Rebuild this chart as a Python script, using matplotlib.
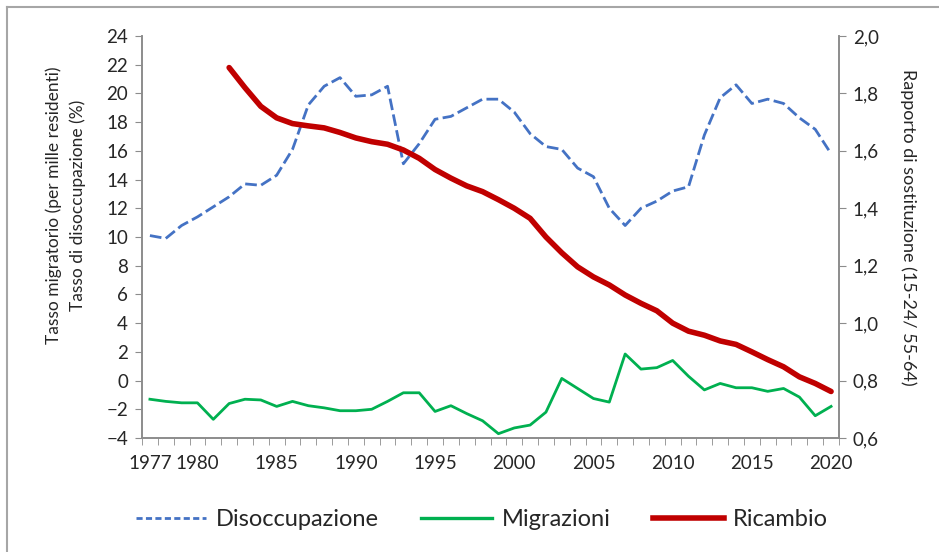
import numpy as np
import matplotlib
matplotlib.use('Agg')
from matplotlib import pyplot as plt
from matplotlib.lines import Line2D
from matplotlib.ticker import FuncFormatter

plt.rcParams['font.family'] = ['Lato', 'DejaVu Sans']

years = list(range(1977, 2021))
disoccupazione = [10.1, 9.9, 10.8, 11.4, 12.1, 12.8, 13.7, 13.6, 14.3, 16.1,
                  19.2, 20.5, 21.1, 19.8, 19.9, 20.5, 15.1, 16.5, 18.2, 18.4,
                  19.0, 19.6, 19.6, 18.7, 17.2, 16.3, 16.1, 14.8, 14.2, 12.0,
                  10.8, 12.0, 12.5, 13.2, 13.5, 17.1, 19.7, 20.6, 19.3, 19.6,
                  19.3, 18.3, 17.5, 15.8]
migrazioni = [-1.3, -1.45, -1.55, -1.55, -2.7, -1.6, -1.3, -1.35, -1.8, -1.45,
              -1.75, -1.9, -2.1, -2.1, -2.0, -1.45, -0.85, -0.85, -2.15, -1.75,
              -2.3, -2.8, -3.7, -3.3, -3.1, -2.2, 0.15, -0.55, -1.25, -1.5,
              1.85, 0.8, 0.9, 1.4, 0.3, -0.65, -0.2, -0.5, -0.5, -0.75,
              -0.55, -1.15, -2.45, -1.8]
ricambio_years = list(range(1982, 2021))
ricambio = [1.89, 1.82, 1.755, 1.715, 1.695, 1.687, 1.68, 1.664, 1.645, 1.632,
            1.623, 1.603, 1.574, 1.535, 1.505, 1.478, 1.458, 1.43, 1.40, 1.365,
            1.30, 1.245, 1.196, 1.161, 1.133, 1.098, 1.069, 1.043, 1.0, 0.972,
            0.958, 0.938, 0.926, 0.90, 0.873, 0.848, 0.813, 0.79, 0.762]

year_labels = [1977, 1980, 1985, 1990, 1995, 2000, 2005, 2010, 2015, 2020]

blue = '#4472C4'
green = '#00B050'
red = '#C00000'
axis_gray = '#8c8c8c'
text_col = '#262626'

W, H = 939, 552
fig = plt.figure(figsize=(W / 100, H / 100), dpi=100)
ax = fig.add_axes([142 / W, (H - 438) / H, (839 - 142) / W, (438 - 36) / H])
ax2 = ax.twinx()

ax.plot(years, disoccupazione, color=blue, lw=2.0, dashes=(4.2, 1.6))
ax.plot(years, migrazioni, color=green, lw=2.0)
ax2.plot(ricambio_years, ricambio, color=red, lw=4.0, solid_capstyle='round')

ax.set_xlim(1976.5, 2020.5)
ax.set_ylim(-4, 24)
ax.set_yticks(np.arange(-4, 25, 2))
ax2.set_ylim(0.6, 2.0)
ax2.set_yticks(np.arange(0.6, 2.01, 0.2))
ax2.yaxis.set_major_formatter(FuncFormatter(lambda v, p: ('%.1f' % v).replace('.', ',')))

ax.set_xticks(year_labels)
ax.set_xticks(np.arange(1976.5, 2021, 1), minor=True)
ax.tick_params(axis='x', which='major', length=0, pad=12, labelsize=13.5, colors=text_col)
ax.tick_params(axis='x', which='minor', length=5, direction='out', color=axis_gray)
ax.tick_params(axis='y', length=5, direction='out', color=axis_gray, labelsize=13.5,
               labelcolor=text_col, pad=5)
ax2.tick_params(axis='y', length=5, direction='out', color=axis_gray, labelsize=13.5,
                labelcolor=text_col, pad=5)

for a in (ax, ax2):
    a.spines['top'].set_visible(False)
    for s in ('left', 'right', 'bottom'):
        a.spines[s].set_color(axis_gray)
        a.spines[s].set_linewidth(1.2)

fig.text(54 / W, 1 - 205 / H, 'Tasso migratorio (per mille residenti)', rotation=90,
         ha='center', va='center', fontsize=12.5, color=text_col)
fig.text(78 / W, 1 - 205 / H, 'Tasso di disoccupazione (%)', rotation=90,
         ha='center', va='center', fontsize=12.5, color=text_col)
fig.text(908 / W, 1 - 227 / H, 'Rapporto di sostituzione (15-24/ 55-64)', rotation=270,
         ha='center', va='center', fontsize=13, color=text_col)

handles = [Line2D([], [], color=blue, lw=2.0, dashes=(2.2, 1.2)),
           Line2D([], [], color=green, lw=2.4),
           Line2D([], [], color=red, lw=4.0)]
fig.legend(handles, ['Disoccupazione', 'Migrazioni', 'Ricambio'], loc='center',
           bbox_to_anchor=(482 / W, 1 - 520 / H), ncol=3, frameon=False,
           fontsize=17, handlelength=3.0, handletextpad=0.4, columnspacing=1.8,
           labelcolor=text_col)

# chart border (only top/left visible in the crop)
fig.add_artist(Line2D([7 / W, 7 / W], [0, 1 - 7 / H], transform=fig.transFigure,
                      color='#a6a6a6', lw=1.5))
fig.add_artist(Line2D([7 / W, 1], [1 - 7 / H, 1 - 7 / H], transform=fig.transFigure,
                      color='#a6a6a6', lw=1.5))

fig.savefig('out.png', dpi=100)
